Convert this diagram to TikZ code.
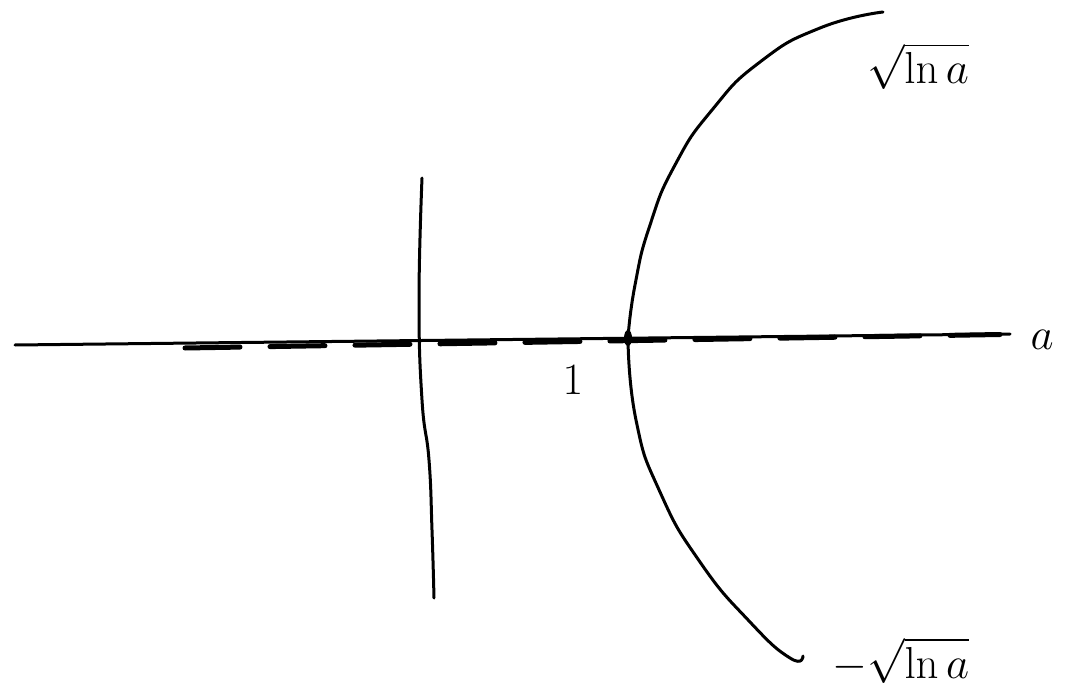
\documentclass[tikz,border=0pt]{standalone}
\begin{document}
\begin{tikzpicture}[x=1pt,y=-1pt,
  ink/.style={line width=3pt,line cap=round,line join=round,black},
  lbl/.style={font=\Huge,scale=1.8,inner sep=0pt}]
\useasboundingbox (0,0) rectangle (1090,690);
% horizontal axis
\coordinate (hl) at (15,345);
\coordinate (hr) at (1010,334);
\draw[ink] (hl) -- (hr);
\draw[line width=5pt,dash pattern=on 55pt off 30pt,line cap=round] (185,348) -- (1000,334.5);
% vertical axis
\coordinate (vt) at (422,178);
\coordinate (vb) at (434,598);
\draw[ink] plot[smooth,tension=0.8] coordinates {(vt) (419,300) (422,400) (429,460) (432,530) (vb)};
% curve a = e^{y^2}
\coordinate (p) at (628,338);
\draw[ink] plot[smooth,tension=0.9] coordinates {(883,12) (820,28) (760,62) (712,110) (675,165) (650,225) (635,285) (p)};
\draw[ink] plot[smooth,tension=0.9] coordinates {(p) (636,420) (660,492) (700,562) (750,622) (790,658) (803,656)};
\fill (p) ellipse (4pt and 8pt);
% labels
\node[lbl] (top) at (918,66) {$\sqrt{\ln a}$};
\node[lbl,anchor=south west] (bot) at (832,684) {$-\sqrt{\ln a}$};
\node[lbl] (alab) at (1042,340) {$a$};
\node[lbl] (one) at (573,380) {$1$};
\end{tikzpicture}
\end{document}
